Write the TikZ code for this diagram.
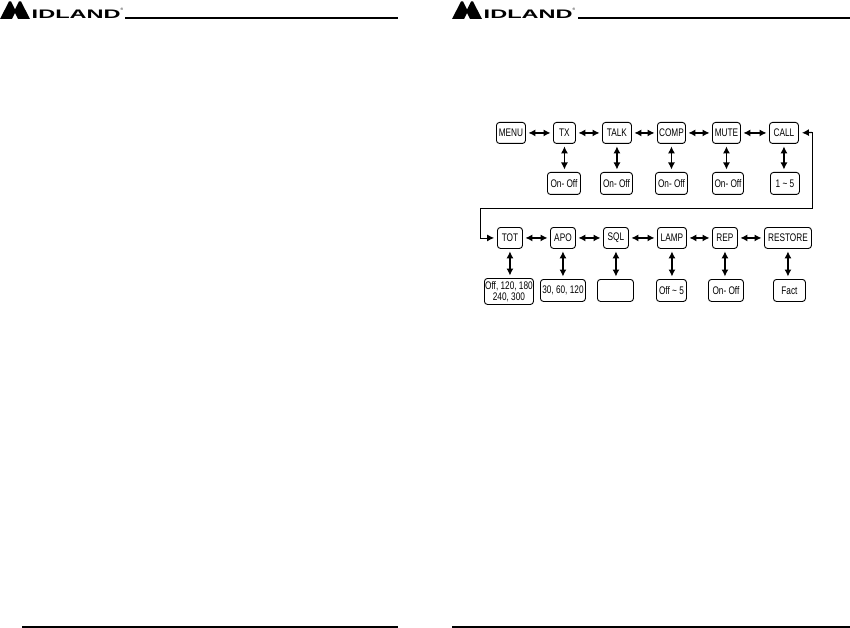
\documentclass[tikz,border=0pt]{standalone}
\usepackage{fontspec}
\setmainfont{Liberation Sans}
\usetikzlibrary{arrows.meta}
\newcommand{\nar}[1]{\scalebox{0.75}[1]{#1}}
\tikzset{
  box/.style={draw=black,line width=0.9pt,rounded corners=3pt,inner sep=0pt,anchor=north west,align=center,font=\fontsize{11}{11.5}\selectfont},
  biarrow/.style={line width=1.2pt,{Latex[length=7pt,width=7pt]}-{Latex[length=7pt,width=7pt]},shorten <=2.5pt,shorten >=2.5pt},
  rule/.style={line width=2.2pt,black},
  route/.style={line width=0.8pt,-{Latex[length=7pt,width=7pt]}},
  logotext/.style={inner sep=0pt,anchor=south west,font=\bfseries\fontsize{11}{11}\selectfont}
}
\newcommand{\bx}[6]{\node[box,minimum width=#4pt-#2pt,minimum height=#5pt-#3pt] (#1) at (#2,#3) {#6};}
\newcommand{\logoat}[3]{%
  \begin{scope}[shift={(#1,0)}]
    \fill (0,19) -- (9,1.5) -- (11,1.5) -- (15,9.5) -- (19,1.5) -- (21,1.5) -- (30,19) -- (18,19) -- (15,13) -- (12,19) -- cycle;
    \node[logotext] (#2) at (31.5,18.5) {\resizebox{89pt}{8.5pt}{IDLAND}};
    \node[inner sep=0pt,font=\fontsize{3.5}{3.5}\selectfont] (#3) at (122,9) {®};
  \end{scope}}
\begin{document}
\begin{tikzpicture}[x=1pt,y=-1pt]
\useasboundingbox[fill=white] (0,0) rectangle (850,628);
\logoat{0}{logoA}{regA}
\logoat{452}{logoB}{regB}
\coordinate (ha) at (125,18); \coordinate (hb) at (398,18);
\coordinate (hc) at (578,18); \coordinate (hd) at (850,18);
\coordinate (fa) at (22,627); \coordinate (fb) at (398,627);
\coordinate (fc) at (452,627); \coordinate (fd) at (850,627);
\draw[rule] (ha) -- (hb);
\draw[rule] (hc) -- (hd);
\draw[rule] (fa) -- (fb);
\draw[rule] (fc) -- (fd);
% row 1
\bx{menu}{496}{122}{525}{143}{\nar{MENU}}
\bx{tx}{553}{122}{575}{143}{\nar{TX}}
\bx{talk}{602}{122}{631}{143}{\nar{TALK}}
\bx{comp}{657}{122}{685}{143}{\nar{COMP}}
\bx{mute}{712}{122}{740}{143}{\nar{MUTE}}
\bx{call}{769}{122}{798}{143}{\nar{CALL}}
\bx{txv}{547}{172}{580}{194}{\nar{On- Off}}
\bx{talkv}{600}{172}{632}{194}{\nar{On- Off}}
\bx{compv}{655}{172}{687}{194}{\nar{On- Off}}
\bx{mutev}{712}{172}{743}{194}{\nar{On- Off}}
\bx{callv}{770}{172}{799}{194}{\nar{1 \textasciitilde{} 5}}
% row 2
\bx{tot}{497}{227}{522}{248}{\nar{TOT}}
\bx{apo}{550}{227}{575}{248}{\nar{APO}}
\bx{sql}{603}{227}{628}{248}{\nar{SQL}}
\bx{lamp}{657}{227}{686}{248}{\nar{LAMP}}
\bx{rep}{712}{227}{737}{248}{\nar{REP}}
\bx{restore}{764}{227}{811}{248}{\nar{RESTORE}}
\bx{totv}{484}{278}{533}{304}{\nar{Off, 120, 180}\\[-0.5pt]\nar{240, 300}}
\bx{apov}{540}{279}{585}{301}{\nar{30, 60, 120}}
\bx{sqlv}{597}{279}{633}{301}{}
\bx{lampv}{656}{279}{686}{301}{\nar{Off \textasciitilde{} 5}}
\bx{repv}{708}{279}{743}{301}{\nar{On- Off}}
\bx{restorev}{773}{279}{805}{301}{\nar{Fact}}
% horizontal links
\foreach \a/\b in {menu/tx,tx/talk,talk/comp,comp/mute,mute/call,tot/apo,apo/sql,sql/lamp,lamp/rep,rep/restore}
  \draw[biarrow] (\a) -- (\b);
% vertical links
\foreach \a/\b in {tx/txv,talk/talkv,comp/compv,mute/mutev,call/callv,tot/totv,apo/apov,sql/sqlv,lamp/lampv,rep/repv,restore/restorev}
  \draw[biarrow] (\a.south) -- (\a.south |- \b.north);
% long route
\coordinate (r1) at (812,132.5); \coordinate (r2) at (812,208); \coordinate (r3) at (480,208);
\draw[route,shorten >=3pt] (r1) -- (r2) -- (r3) -- (r3 |- tot.west) -- (tot.west);
\draw[route,line width=1.2pt,shorten >=3pt] (r1) -- (call.east);
\end{tikzpicture}
\end{document}
